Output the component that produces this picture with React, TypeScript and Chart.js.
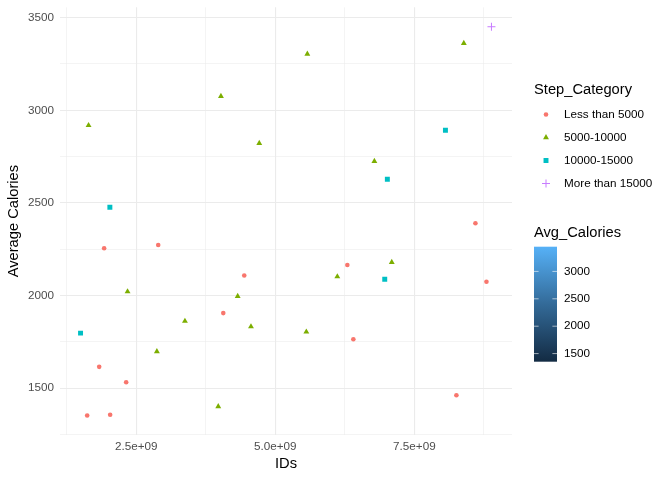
import { useEffect, useRef } from 'react';
import { Chart, registerables } from 'chart.js';
import { drawPoint } from 'chart.js/helpers';

Chart.register(...registerables);

// Step_Category groups
const lessIds = [1.619e9, 2.032e9, 1.835e9, 2.32e9, 1.924e9, 2.896e9, 4.065e9, 4.442e9, 6.295e9, 6.403e9, 8.255e9, 8.597e9, 8.795e9];
const lessCalories = [1352, 1356, 1615, 1532, 2255, 2273, 1905, 2108, 2165, 1764, 1462, 2390, 2074];

const midIds = [1.644e9, 4.023e9, 4.712e9, 5.576e9, 8.388e9, 6.781e9, 2.345e9, 4.324e9, 3.376e9, 4.563e9, 2.872e9, 3.975e9, 6.115e9, 7.093e9, 5.558e9];
const midCalories = [2919, 3076, 2822, 3304, 3362, 2725, 2021, 1996, 1862, 1832, 1698, 1401, 2102, 2180, 1804];

const highIds = [2.027e9, 1.5e9, 8.058e9, 7.014e9, 6.967e9];
const highCalories = [2477, 1797, 2892, 2628, 2088];

const topIds = [8.885e9];
const topCalories = [3451];

const categories = ['Less than 5000', '5000-10000', '10000-15000', 'More than 15000'];
const categoryColors = ['#F8766D', '#7CAE00', '#00BFC4', '#C77CFF'];
const categoryShapes = ['circle', 'triangle', 'rect', 'cross'];
const shapeRadius = [2.3, 3.4, 3.5, 4];

const xMajorTicks = [2.5e9, 5e9, 7.5e9];
const xMinorTicks = [1.25e9, 3.75e9, 6.25e9, 8.75e9];
const yMajorTicks = [1500, 2000, 2500, 3000, 3500];
const yMinorTicks = [1250, 1750, 2250, 2750, 3250];
const colorbarTicks = [1500, 2000, 2500, 3000];

const FONT = '"Liberation Sans", Arial, sans-serif';

const groupIds = [lessIds, midIds, highIds, topIds];
const groupCalories = [lessCalories, midCalories, highCalories, topCalories];

const allIds = groupIds.flat();
const allCalories = groupCalories.flat();
const xLo = Math.min(...allIds);
const xHi = Math.max(...allIds);
const yLo = Math.min(...allCalories);
const yHi = Math.max(...allCalories);
const xPad = (xHi - xLo) * 0.05;
const yPad = (yHi - yLo) * 0.05;

function sci(v: number) {
    const [m, e] = v.toExponential(1).split('e');
    const sign = e[0] === '-' ? '-' : '+';
    const digits = e.replace(/[+-]/, '').padStart(2, '0');
    return `${m}e${sign}${digits}`;
}

const legendPlugin = {
    id: 'ggLegend',
    afterDraw(chart: any) {
        const ctx = chart.ctx as CanvasRenderingContext2D;
        ctx.save();
        ctx.textAlign = 'left';
        ctx.textBaseline = 'middle';
        ctx.fillStyle = '#000000';
        ctx.font = `14.7px ${FONT}`;
        ctx.fillText('Step_Category', 534, 90);

        chart.data.datasets.forEach((ds: any, i: number) => {
            const y = 114.5 + i * 23;
            ctx.fillStyle = ds.backgroundColor;
            ctx.strokeStyle = ds.borderColor;
            ctx.lineWidth = ds.borderWidth;
            drawPoint(ctx, { pointStyle: ds.pointStyle, radius: ds.pointRadius, borderWidth: ds.borderWidth, rotation: 0 } as any, 546, y);
            ctx.fillStyle = '#000000';
            ctx.font = `11.7px ${FONT}`;
            ctx.fillText(ds.label, 564, y);
        });

        ctx.font = `14.7px ${FONT}`;
        ctx.fillText('Avg_Calories', 534, 233);

        const bx = 534, by = 246.7, bw = 23, bh = 115;
        const grad = ctx.createLinearGradient(0, by, 0, by + bh);
        grad.addColorStop(0, '#56B1F7');
        grad.addColorStop(0.5, '#336A98');
        grad.addColorStop(1, '#132B43');
        ctx.fillStyle = grad;
        ctx.fillRect(bx, by, bw, bh);

        ctx.strokeStyle = '#FFFFFF';
        ctx.lineWidth = 0.6;
        ctx.font = `11.7px ${FONT}`;
        colorbarTicks.forEach((v) => {
            const y = by + ((yHi - v) / (yHi - yLo)) * bh;
            ctx.beginPath();
            ctx.moveTo(bx, y);
            ctx.lineTo(bx + 4.6, y);
            ctx.moveTo(bx + bw - 4.6, y);
            ctx.lineTo(bx + bw, y);
            ctx.stroke();
            ctx.fillStyle = '#000000';
            ctx.fillText(String(v), 564, y);
        });
        ctx.restore();
    },
};

export default function App() {
    const canvasRef = useRef<HTMLCanvasElement>(null);

    useEffect(() => {
        if (canvasRef.current === null) return;
        const ctx = canvasRef.current.getContext('2d');
        if (ctx === null) return;

        const datasets = categories.map((label, i) => ({
            label,
            data: groupIds[i].map((x, j) => ({ x, y: groupCalories[i][j] })),
            pointStyle: categoryShapes[i],
            pointRadius: shapeRadius[i],
            backgroundColor: categoryColors[i],
            borderColor: categoryColors[i],
            borderWidth: categoryShapes[i] === 'cross' ? 1 : 0,
        }));

        const chart = new Chart(ctx, {
            type: 'scatter',
            data: { datasets },
            options: {
                responsive: false,
                animation: false,
                events: [],
                layout: { padding: { top: 7.3, right: 160, bottom: 0, left: 0 } },
                plugins: {
                    legend: { display: false },
                    tooltip: { enabled: false },
                },
                scales: {
                    x: {
                        type: 'linear',
                        min: xLo - xPad,
                        max: xHi + xPad,
                        afterBuildTicks: (scale: any) => {
                            scale.ticks = [...xMinorTicks, ...xMajorTicks].sort((a, b) => a - b).map((value) => ({ value }));
                        },
                        afterFit: (scale: any) => {
                            scale.height = 45;
                            scale.paddingLeft = 0;
                            scale.paddingRight = 0;
                        },
                        border: { display: false },
                        grid: {
                            drawTicks: false,
                            color: '#EBEBEB',
                            lineWidth: (c: any) => (xMajorTicks.includes(c.tick?.value) ? 1.1 : 0.55),
                        },
                        ticks: {
                            padding: 5,
                            color: '#4D4D4D',
                            font: { family: FONT, size: 11.7 },
                            maxRotation: 0,
                            autoSkip: false,
                            callback: (v: any) => (xMajorTicks.includes(Number(v)) ? sci(Number(v)) : ''),
                        },
                        title: {
                            display: true,
                            text: 'IDs',
                            color: '#000000',
                            font: { family: FONT, size: 14.7 },
                            padding: { top: 0, bottom: 7 },
                        },
                    },
                    y: {
                        type: 'linear',
                        min: yLo - yPad,
                        max: yHi + yPad,
                        afterBuildTicks: (scale: any) => {
                            scale.ticks = [...yMinorTicks, ...yMajorTicks].sort((a, b) => a - b).map((value) => ({ value }));
                        },
                        afterFit: (scale: any) => {
                            scale.width = 60;
                            scale.paddingTop = 0;
                            scale.paddingBottom = 0;
                        },
                        border: { display: false },
                        grid: {
                            drawTicks: false,
                            color: '#EBEBEB',
                            lineWidth: (c: any) => (yMajorTicks.includes(c.tick?.value) ? 1.1 : 0.55),
                        },
                        ticks: {
                            padding: 6,
                            color: '#4D4D4D',
                            font: { family: FONT, size: 11.7 },
                            autoSkip: false,
                            callback: (v: any) => (yMajorTicks.includes(Number(v)) ? String(v) : ''),
                        },
                        title: {
                            display: true,
                            text: 'Average Calories',
                            color: '#000000',
                            font: { family: FONT, size: 14.7 },
                            padding: { top: 5, bottom: 0 },
                        },
                    },
                },
            },
            plugins: [legendPlugin],
        });

        return () => {
            chart.destroy();
        };
    }, []);

    return (
        <div style={{ position: 'absolute', left: 0, top: 0, width: 672, height: 480, background: '#FFFFFF' }}>
            <canvas ref={canvasRef} width={672} height={480} style={{ width: 672, height: 480 }}></canvas>
        </div>
    );
}
